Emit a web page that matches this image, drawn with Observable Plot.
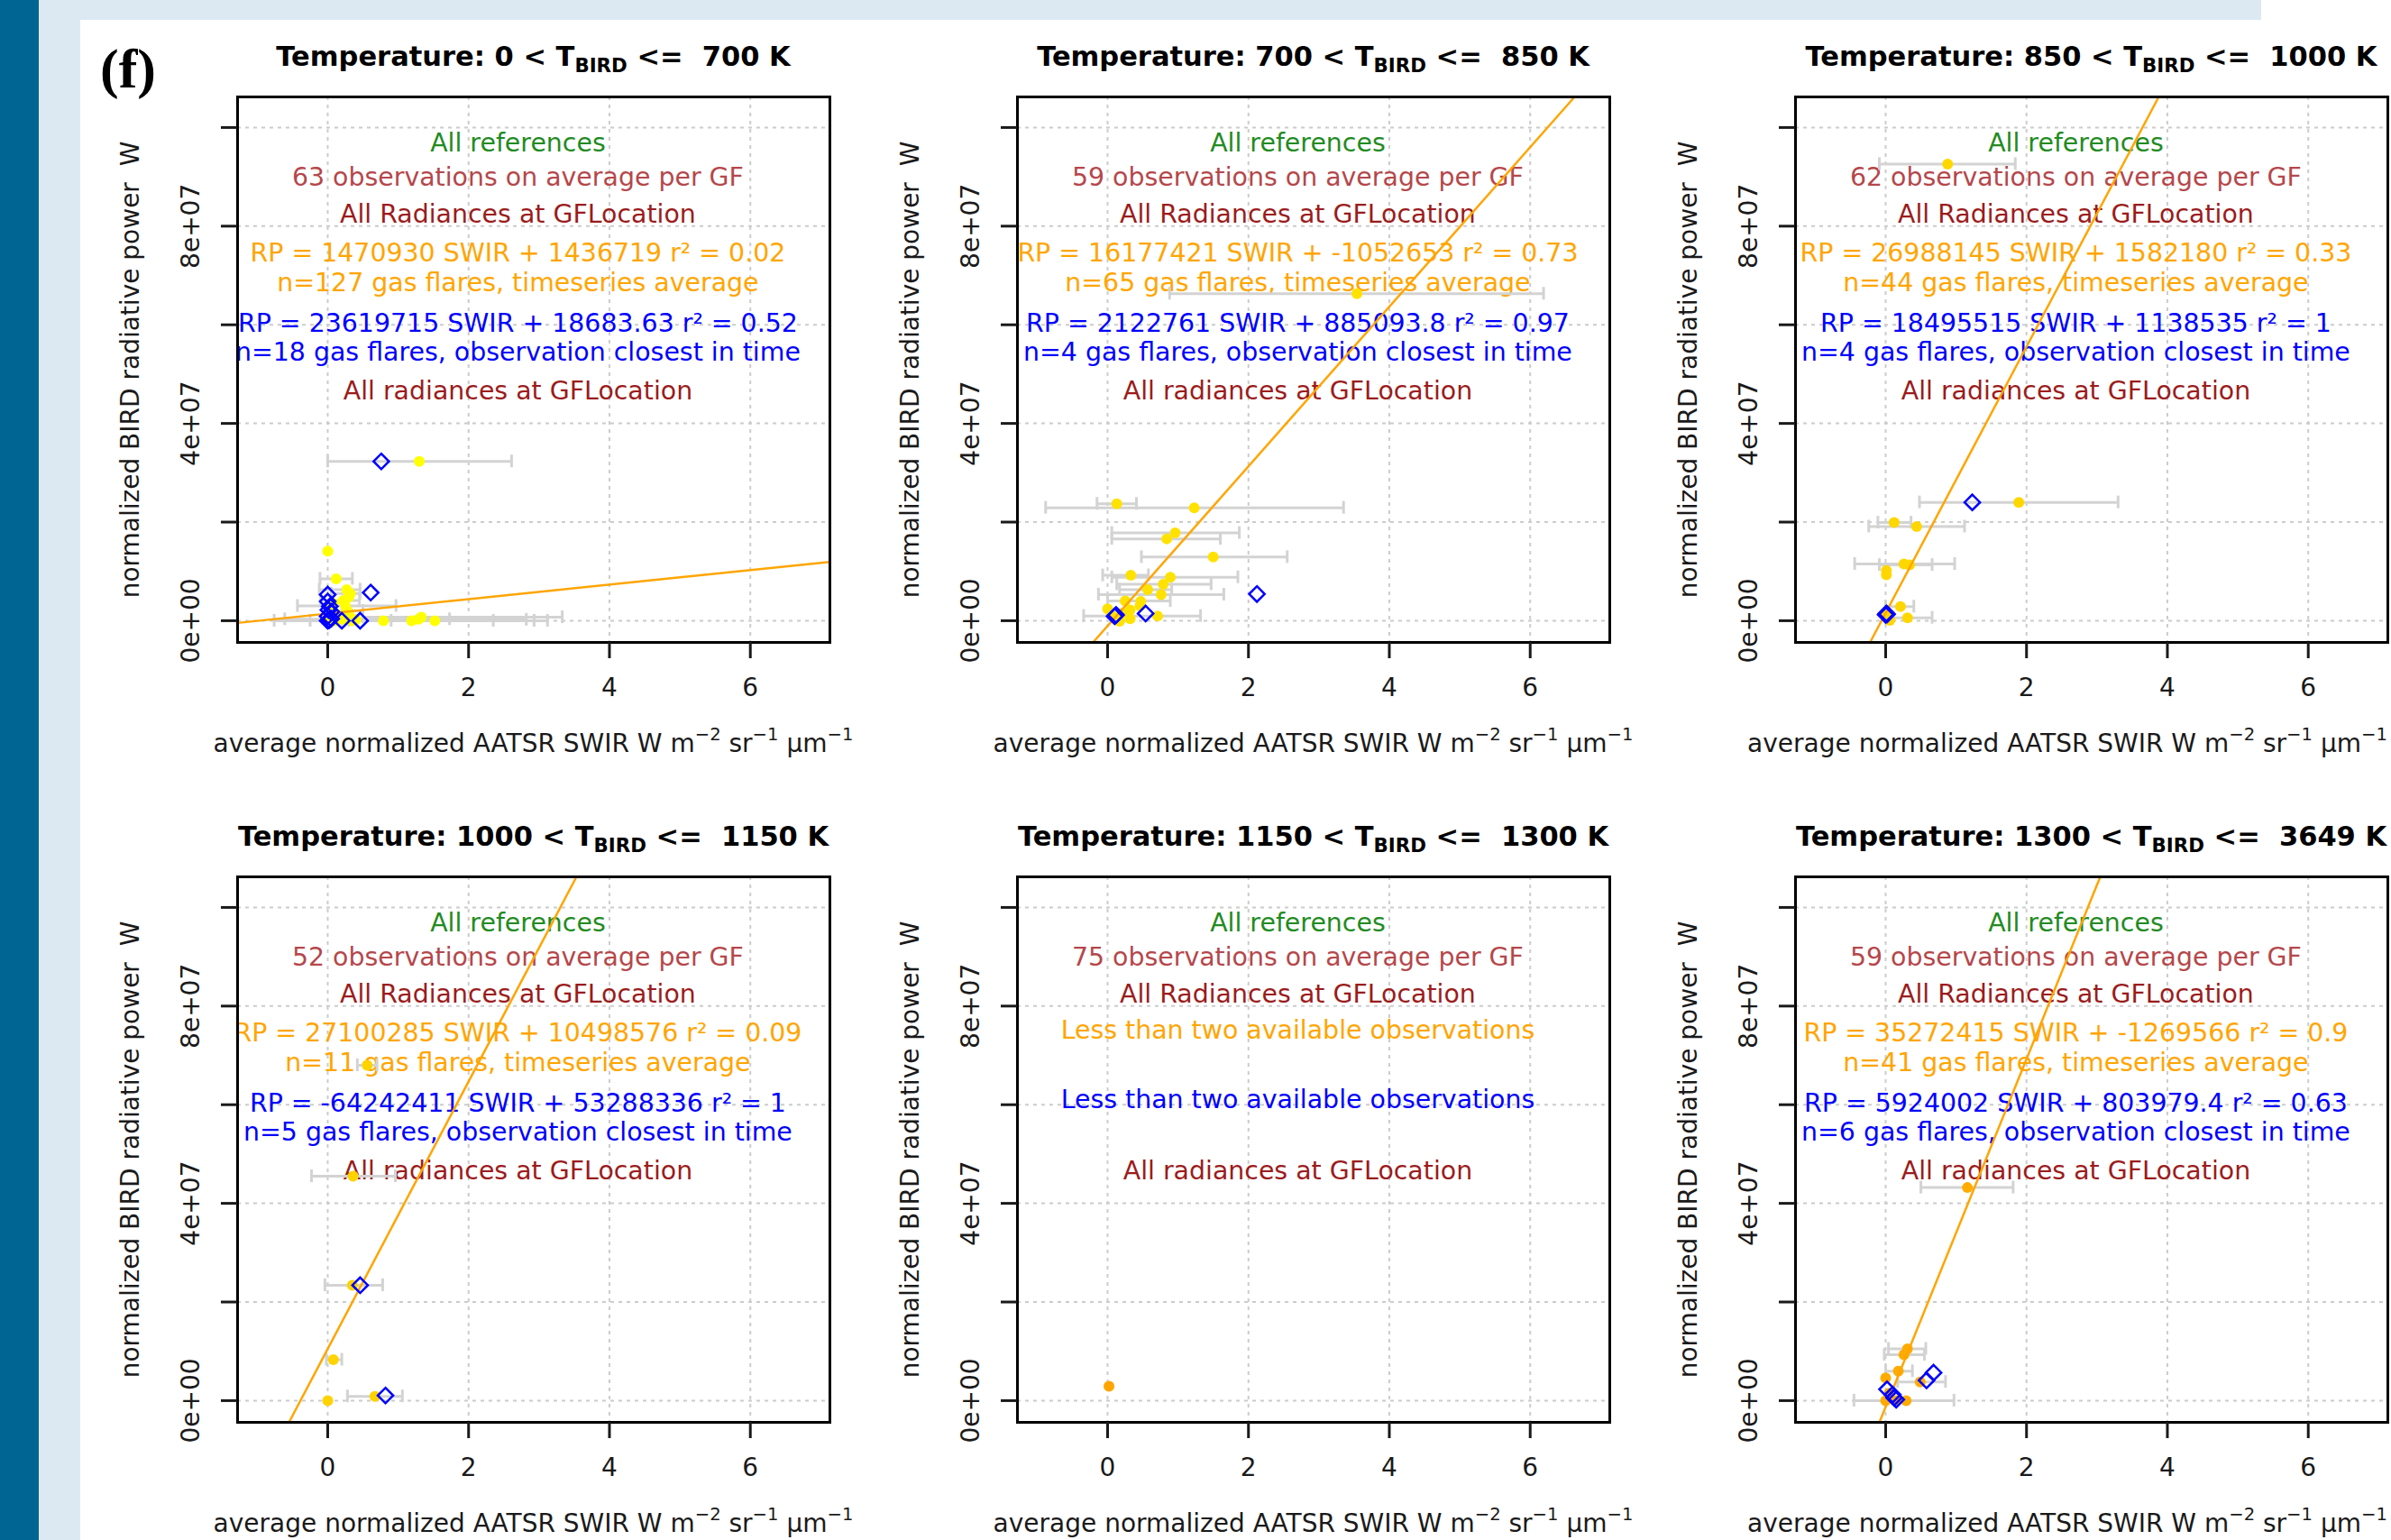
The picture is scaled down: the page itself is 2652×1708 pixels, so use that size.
<!DOCTYPE html>
<html>
<head>
<meta charset="utf-8">
<script src="https://cdn.jsdelivr.net/npm/d3@7"></script>
<script src="https://cdn.jsdelivr.net/npm/@observablehq/plot@0.6"></script>
<style>
html, body { margin: 0; padding: 0; background: #fff; }
#page { position: relative; width: 2652px; height: 1708px; overflow: hidden; background: #fff; font-family: "DejaVu Sans", sans-serif; }
.abs { position: absolute; }
.lbl { position: absolute; white-space: pre; line-height: 1.16; }
.title { font-weight: bold; font-size: 30.5px; color: #000; transform: translate(-50%, -50%); }
.title sub { font-size: 70%; vertical-align: -0.3em; line-height: 0; }
.xlab { font-size: 28px; color: #1a1a1a; transform: translate(-50%, -50%); }
.xlab sup { font-size: 70%; vertical-align: 0.65em; line-height: 0; }
.ylab { font-size: 28px; color: #1a1a1a; transform: translate(-50%, -50%) rotate(-90deg); }
.panelLetter { position: absolute; font-family: "Liberation Serif", serif; font-weight: bold; font-size: 62px; color: #000; transform: translate(-50%, -50%); line-height: 1; }
</style>
</head>
<body>
<div id="page"></div>
<script>
// ---------------- data ----------------
const tempLow = [0, 700, 850, 1000, 1150, 1300];
const tempHigh = [700, 850, 1000, 1150, 1300, 3649];
const obsPerGF = [63, 59, 62, 52, 75, 59];

// timeseries-average fit (orange)
const avgSlope = [1470930, 16177421, 26988145, 27100285, null, 35272415];
const avgIntercept = [1436719, -1052653, 1582180, 10498576, null, -1269566];
const avgR2 = [0.02, 0.73, 0.33, 0.09, null, 0.9];
const avgN = [127, 65, 44, 11, null, 41];

// observation-closest-in-time fit (blue)
const closeSlope = [23619715, 2122761, 18495515, -64242411, null, 5924002];
const closeIntercept = [18683.63, 885093.8, 1138535, 53288336, null, 803979.4];
const closeR2 = [0.52, 0.97, 1, 1, null, 0.63];
const closeN = [18, 4, 4, 5, null, 6];

// axis ticks
const xTicks = [0, 2, 4, 6];
const yTicks = [0, 2e7, 4e7, 6e7, 8e7, 1e8];
const yLabelTicks = [0, 4e7, 8e7];
const yTickLabels = ["0e+00", "4e+07", "8e+07"];

// timeseries average points: [SWIR, RP, errLow, errHigh]
const avgPanel1 = [
  [1.30, 32.3e6, 0.00, 2.61], [0.00, 14.1e6, null, null], [0.12, 8.5e6, -0.11, 0.35],
  [0.27, 6.3e6, -0.12, 0.46], [0.32, 5.5e6, 0.05, 0.46], [0.22, 4.1e6, -0.10, 0.45],
  [0.25, 3.0e6, -0.43, 0.97], [0.28, 2.0e6, 0.00, 0.50], [0.05, 2.5e6, null, null],
  [0.18, 1.0e6, null, null], [0.30, 4.8e6, null, null], [0.10, 1.5e6, null, null],
  [0.30, 1.2e6, null, null], [0.08, 3.5e6, null, null], [0.15, 0.6e6, null, null],
  [0.12, 0.0, -0.76, 0.90], [0.22, 0.3e6, -0.61, 1.73], [0.35, 0.0, -0.25, 2.35],
  [0.40, 0.2e6, 0.00, 2.82], [0.79, 0.0, 0.20, 2.93], [1.19, 0.0, 0.30, 3.12],
  [1.33, 0.7e6, 0.50, 3.33], [1.29, 0.3e6, null, null], [1.52, 0.0, null, null],
  [0.02, 0.5e6, null, null]
];
const avgPanel2 = [
  [0.13, 23.7e6, -0.15, 0.41], [1.23, 22.9e6, -0.88, 3.35], [0.96, 17.8e6, 0.06, 1.87],
  [0.84, 16.6e6, 0.06, 1.60], [1.50, 12.9e6, 0.48, 2.55], [0.33, 9.2e6, -0.07, 0.58],
  [0.89, 8.8e6, 0.06, 1.85], [0.79, 7.4e6, 0.13, 1.47], [0.57, 6.3e6, 0.17, 0.91],
  [0.76, 5.3e6, -0.13, 1.65], [0.25, 4.0e6, 0.00, 0.89], [0.47, 3.9e6, null, null],
  [0.46, 3.0e6, null, null], [0.00, 2.4e6, null, null], [0.32, 2.2e6, null, null],
  [0.05, 1.2e6, null, null], [0.20, 1.5e6, null, null], [0.71, 0.97e6, -0.34, 1.32],
  [0.32, 0.4e6, null, null], [0.13, 0.2e6, null, null], [0.17, -0.1e6, null, null],
  [3.54, 66.3e6, 0.88, 6.19]
];
const avgPanel3 = [
  [0.88, 92.6e6, -0.09, 1.84], [1.89, 24.0e6, 0.48, 3.30], [0.12, 19.9e6, -0.11, 0.36],
  [0.44, 19.1e6, -0.24, 1.12], [0.26, 11.5e6, -0.44, 0.98], [0.34, 11.3e6, -0.09, 0.66],
  [0.01, 10.2e6, null, null], [0.01, 9.3e6, null, null], [0.21, 2.86e6, 0.00, 0.40],
  [0.31, 0.6e6, 0.00, 0.66], [0.00, 1.3e6, null, null], [0.06, 0.1e6, null, null]
];
const avgPanel4 = [
  [0.56, 68.0e6, 0.42, 0.70], [0.36, 45.5e6, -0.23, 0.96], [0.35, 23.4e6, -0.04, 0.78],
  [0.08, 8.3e6, -0.02, 0.20], [0.00, 0.0, null, null], [0.67, 0.86e6, 0.28, 1.06]
];
const avgPanel5 = [
  [0.02, 2.9e6, null, null]
];
const avgPanel6 = [
  [1.16, 43.2e6, 0.50, 1.81], [0.31, 10.5e6, 0.04, 0.57], [0.26, 9.3e6, -0.02, 0.55],
  [0.18, 5.97e6, 0.00, 0.38], [0.00, 4.6e6, null, null], [0.49, 3.8e6, 0.17, 0.85],
  [0.00, 0.0, -0.45, 0.97], [0.15, 0.0, null, null], [0.29, 0.0, null, null],
  [0.05, 1.5e6, null, null]
];

// closest-in-time observations: [SWIR, RP]
const closePanel1 = [
  [0.76, 32.3e6], [0.61, 5.7e6], [0.00, 5.3e6], [0.00, 3.9e6], [0.03, 2.9e6], [0.01, 2.2e6],
  [0.05, 1.8e6], [0.00, 0.9e6], [0.05, 0.4e6], [0.00, 0.0], [0.02, 0.1e6], [0.20, 0.0], [0.46, 0.0]
];
const closePanel2 = [[0.12, 1.16e6], [0.10, 0.9e6], [0.54, 1.46e6], [2.12, 5.42e6]];
const closePanel3 = [[1.23, 24.0e6], [0.01, 1.46e6], [0.00, 1.2e6], [0.02, 1.3e6]];
const closePanel4 = [[0.46, 23.4e6], [0.82, 1.04e6]];
const closePanel5 = [];
const closePanel6 = [[0.68, 5.66e6], [0.58, 4.1e6], [0.02, 2.3e6], [0.10, 1.2e6], [0.12, 0.6e6], [0.15, 0.2e6]];

const avgPoints = [avgPanel1, avgPanel2, avgPanel3, avgPanel4, avgPanel5, avgPanel6];
const closePoints = [closePanel1, closePanel2, closePanel3, closePanel4, closePanel5, closePanel6];

// ---------------- styles / layout ----------------
const pointColor = ["#ffff00", "#ffe200", "#ffd700", "#ffd300", "#ffa500", "#ffab00"];
const cGreen = "#228b22", cRed1 = "#b5474b", cRed2 = "#9b1c1c", cOrange = "#ffa500", cBlue = "#0000ff";
const xDomain = [-1.28, 7.13];
const yDomain = [-4.4e6, 1.062e8];
const frameLeft = [263, 1128, 1991];
const frameTop = [107, 972];
const FW = 657, FH = 605;
const mL = 180, mT = 20, mR = 30, mB = 90;
const textX = 2.7;
const PAGE_W = 2652;

const page = document.getElementById("page");
function addBox(l, t, w, h, bg) {
  const d = document.createElement("div");
  d.className = "abs";
  Object.assign(d.style, {left: l + "px", top: t + "px", width: w + "px", height: h + "px", background: bg});
  page.appendChild(d);
}
function addLabel(cls, x, y, html) {
  const d = document.createElement("div");
  d.className = "lbl " + cls;
  d.style.left = x + "px";
  d.style.top = y + "px";
  d.innerHTML = html;
  page.appendChild(d);
  return d;
}

// background strips
addBox(0, 0, 43, 1708, "#006592");
addBox(43, 0, 46, 1708, "#dce9f2");
addBox(89, 0, 2419, 22, "#dce9f2");

function fitLine(a, b) {
  const [x0, x1] = xDomain, [y0, y1] = yDomain;
  const xa = (y0 - b) / a, xb = (y1 - b) / a;
  const xs = Math.max(x0, Math.min(xa, xb)), xe = Math.min(x1, Math.max(xa, xb));
  return [{x: xs, y: a * xs + b}, {x: xe, y: a * xe + b}];
}

function annotationLines(i) {
  const L = [
    {text: "All references", y: 9.68e7, color: cGreen},
    {text: `${obsPerGF[i]} observations on average per GF`, y: 8.99e7, color: cRed1},
    {text: "All Radiances at GFLocation", y: 8.24e7, color: cRed2}
  ];
  if (avgSlope[i] != null) {
    L.push({text: `RP = ${avgSlope[i]} SWIR + ${avgIntercept[i]} r\u00B2 = ${avgR2[i]}`, y: 7.45e7, color: cOrange});
    L.push({text: `n=${avgN[i]} gas flares, timeseries average`, y: 6.85e7, color: cOrange});
  } else {
    L.push({text: "Less than two available observations", y: 7.51e7, color: cOrange});
  }
  if (closeSlope[i] != null) {
    L.push({text: `RP = ${closeSlope[i]} SWIR + ${closeIntercept[i]} r\u00B2 = ${closeR2[i]}`, y: 6.03e7, color: cBlue});
    L.push({text: `n=${closeN[i]} gas flares, observation closest in time`, y: 5.43e7, color: cBlue});
  } else {
    L.push({text: "Less than two available observations", y: 6.1e7, color: cBlue});
  }
  L.push({text: "All radiances at GFLocation", y: 4.65e7, color: cRed2});
  return L;
}

const diamond = {
  draw(ctx, size) {
    const r = Math.sqrt(size / Math.PI) * 1.1;
    ctx.moveTo(0, -r); ctx.lineTo(r, 0); ctx.lineTo(0, r); ctx.lineTo(-r, 0); ctx.closePath();
  }
};

const gridStyle = {stroke: "#cccccc", strokeWidth: 2, strokeDasharray: "4,5"};
const barStyle = {stroke: "#d3d3d3", strokeWidth: 3};

for (let i = 0; i < 6; i++) {
  const col = i % 3, row = Math.floor(i / 3);
  const fl = frameLeft[col], ft = frameTop[row];
  const avg = avgPoints[i].map(([x, y, lo, hi]) => ({x, y, lo, hi}));
  const bars = avg.filter(d => d.lo != null);
  const close = closePoints[i].map(([x, y]) => ({x, y}));

  const marks = [
    Plot.ruleX(xTicks, {x: d => d, ...gridStyle}),
    Plot.ruleY(yTicks, {y: d => d, ...gridStyle}),
    Plot.text(annotationLines(i), {x: () => textX, y: "y", text: "text", fill: "color", fontSize: 28.4}),
    Plot.link(bars, {x1: "lo", x2: "hi", y1: "y", y2: "y", ...barStyle}),
    Plot.ruleX(bars, {x: "lo", y1: "y", y2: "y", insetTop: -7, insetBottom: -7, ...barStyle}),
    Plot.ruleX(bars, {x: "hi", y1: "y", y2: "y", insetTop: -7, insetBottom: -7, ...barStyle}),
    Plot.dot(avg, {x: "x", y: "y", r: 6, fill: pointColor[i]})
  ];
  if (avgSlope[i] != null) {
    marks.push(Plot.line(fitLine(avgSlope[i], avgIntercept[i]), {x: "x", y: "y", stroke: cOrange, strokeWidth: 2.5}));
  }
  marks.push(Plot.dot(close, {x: "x", y: "y", r: 7.8, symbol: diamond, stroke: cBlue, strokeWidth: 2.5, fill: "none"}));
  marks.push(Plot.frame({stroke: "#000", strokeWidth: 3}));
  marks.push(Plot.axisX({ticks: xTicks, tickSize: 18, tickPadding: 22, tickFormat: d => String(d), label: null, strokeWidth: 3, fontSize: 28, color: "#1a1a1a"}));
  marks.push(Plot.axisY({ticks: yTicks, tickSize: 18, tickFormat: () => "", label: null, strokeWidth: 3, color: "#1a1a1a"}));
  marks.push(Plot.text(yLabelTicks, {y: d => d, text: (d, j) => yTickLabels[j], frameAnchor: "left", dx: -51, rotate: -90, fontSize: 28, fill: "#1a1a1a", textAnchor: "middle", lineAnchor: "middle"}));

  const svg = Plot.plot({
    width: FW + mL + mR,
    height: FH + mT + mB,
    marginLeft: mL, marginTop: mT, marginRight: mR, marginBottom: mB,
    x: {domain: xDomain, label: null},
    y: {domain: yDomain, label: null},
    color: {type: "identity"},
    style: {fontFamily: "DejaVu Sans", fontSize: "28px", background: "transparent", overflow: "visible"},
    marks
  });
  svg.style.position = "absolute";
  svg.style.left = (fl - mL) + "px";
  svg.style.top = (ft - mT) + "px";
  page.appendChild(svg);

  const cx = fl + FW / 2, cy = ft + FH / 2;
  addLabel("title", cx, ft - 44, `Temperature: ${tempLow[i]} &lt; T<sub>BIRD</sub> &lt;=  ${tempHigh[i]} K`);
  const xl = addLabel("xlab", cx, ft + FH + 113, `average normalized AATSR SWIR W m<sup>\u22122</sup> sr<sup>\u22121</sup> \u03BCm<sup>\u22121</sup>`);
  // keep the axis label inside the page (the reference crops it at the right edge)
  const halfW = xl.offsetWidth / 2;
  if (cx + halfW > PAGE_W - 4) xl.style.left = (PAGE_W - 4 - halfW) + "px";
  addLabel("ylab", fl - 118, cy, `normalized BIRD radiative power  W`);
}

// panel letter
const letter = document.createElement("div");
letter.className = "panelLetter";
letter.style.left = "142px";
letter.style.top = "76px";
letter.textContent = "(f)";
page.appendChild(letter);
</script>
</body>
</html>
